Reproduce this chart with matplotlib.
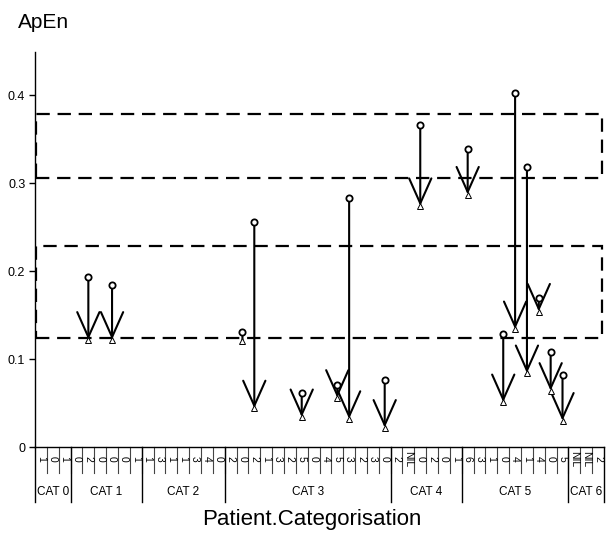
import matplotlib
matplotlib.use("Agg")
import matplotlib.pyplot as plt
from matplotlib.patches import Rectangle

plt.rcParams['font.family'] = ['Liberation Sans', 'DejaVu Sans']

# category groups along the x axis and their tick labels
groups = ['CAT 0', 'CAT 1', 'CAT 2', 'CAT 3', 'CAT 4', 'CAT 5', 'CAT 6']
group_sizes = [3, 6, 7, 14, 6, 9, 3]
tick_labels = ['1', '0', '1',
               '0', '2', '0', '0', '0', '1',
               '1', '3', '1', '1', '3', '4', '0',
               '2', '0', '2', '1', '3', '2', '5', '0', '4', '5', '3', '2', '3', '0',
               '2', 'NIL', '0', '2', '0', '1',
               '6', '3', '1', '0', '4', '1', '4', '0', '5',
               'NIL', 'NIL', '2']

# arrows: category index, start ApEn (circle), end ApEn (triangle)
arrow_idx = [4, 6, 17, 18, 22, 25, 26, 29, 32, 36, 39, 40, 41, 42, 43, 44]
apen_start = [0.193, 0.184, 0.131, 0.256, 0.061, 0.070, 0.283, 0.076,
              0.366, 0.339, 0.129, 0.402, 0.318, 0.169, 0.108, 0.082]
apen_end = [0.122, 0.122, 0.121, 0.044, 0.034, 0.056, 0.032, 0.022,
            0.274, 0.287, 0.051, 0.134, 0.084, 0.154, 0.064, 0.030]

# reference bands (dashed boxes)
band_low = [0.124, 0.306]
band_high = [0.228, 0.378]

fig = plt.figure(figsize=(6.12, 5.34), dpi=100)
ax = fig.add_axes([35/612, (534-447)/534, 569/612, 395/534])
n = len(tick_labels)
ax.set_xlim(0, n)
ax.set_ylim(0, 0.449)

for s in ['top', 'right']:
    ax.spines[s].set_visible(False)
ax.spines['left'].set_linewidth(1.0)
ax.spines['bottom'].set_linewidth(1.0)
ax.set_xticks([])
ax.set_yticks([0, 0.1, 0.2, 0.3, 0.4])
ax.set_yticklabels(['0', '0.1', '0.2', '0.3', '0.4'])
ax.tick_params(axis='y', length=4, width=1, labelsize=9, pad=3)

for lo, hi in zip(band_low, band_high):
    ax.add_patch(Rectangle((0.1, lo), n - 0.25, hi - lo, fill=False,
                           ec='black', lw=1.6, ls=(0, (6, 3.5)), zorder=1))

for i, s, e in zip(arrow_idx, apen_start, apen_end):
    x = i + 0.5
    style = '->,head_length=1.8,head_width=0.8' if s - e > 0.014 else '-'
    ax.annotate('', xy=(x, e), xytext=(x, s),
                arrowprops=dict(arrowstyle=style, lw=1.5, color='black',
                                shrinkA=2, shrinkB=0, mutation_scale=10),
                zorder=2)
xs = [i + 0.5 for i in arrow_idx]
ax.plot(xs, apen_start, 'o', ms=4.5, mfc='white', mec='black', mew=1.3,
        ls='none', zorder=3)
ax.plot(xs, apen_end, '^', ms=4.5, mfc='white', mec='black', mew=0.7,
        ls='none', zorder=3)

# category axis below the plot
tr = ax.get_xaxis_transform()
h = 395.0
for k in range(1, n):
    ax.plot([k, k], [0, -26/h], color='#444444', lw=0.8, transform=tr, clip_on=False)
for k, lab in enumerate(tick_labels):
    ax.text(k + 0.5, -12/h, lab, rotation=-90, ha='center', va='center',
            fontsize=7.5, transform=tr)
pos = 0
edges = [0]
for g, c in zip(groups, group_sizes):
    ax.text(pos + c/2, -45/h, g, ha='center', va='center', fontsize=8.5, transform=tr)
    pos += c
    edges.append(pos)
for ed in edges:
    ax.plot([ed, ed], [0, -55/h], color='black', lw=1.0, transform=tr, clip_on=False)

fig.text(18/612, 1 - 22/534, 'ApEn', ha='left', va='center', fontsize=15)
fig.text(312/612, 1 - 519/534, 'Patient.Categorisation', ha='center', va='center',
         fontsize=16)

fig.savefig('out.png', dpi=100)
